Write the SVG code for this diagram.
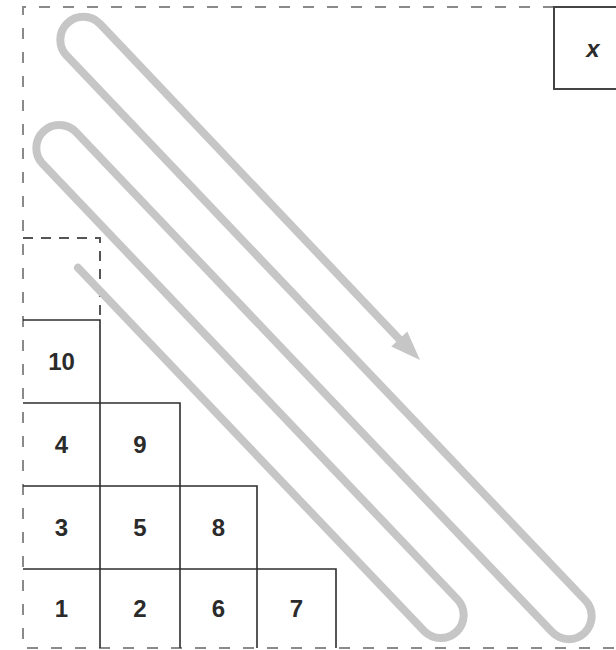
<svg xmlns="http://www.w3.org/2000/svg" width="616" height="650" viewBox="0 0 616 650">
<style>
.frame{fill:none;stroke:#8a8a8a;stroke-width:2;stroke-dasharray:11 13}
.dbox{fill:none;stroke:#555;stroke-width:2;stroke-dasharray:10 8}
.cell{fill:none;stroke:#2e2e2e;stroke-width:1.6}
.num{font-family:"Liberation Sans",Arial,sans-serif;font-size:24px;font-weight:bold;fill:#2b2b2b;text-anchor:middle;dominant-baseline:central}
.lane{fill:none;stroke:#c6c6c6;stroke-width:8;stroke-linecap:round;stroke-linejoin:round}
.head{fill:#c6c6c6}
</style>
<rect width="616" height="650" fill="#fff"/>
<path class="frame" d="M554 7 H23 V648 H616"/>
<g id="node-empty">
<path class="dbox" d="M23 238 H100 V320"/>
</g>
<g id="node-x">
<rect x="554" y="7" width="70" height="82" fill="#fff" stroke="#444" stroke-width="2"/>
<text class="num" x="593" y="48" font-style="italic" font-size="27">x</text>
</g>
<g id="node-10"><path class="cell" d="M23 320 H100 V403"/><text class="num" x="61.5" y="361.5">10</text></g>
<g id="node-4"><path class="cell" d="M23 403 H100 V486"/><text class="num" x="61.5" y="444.5">4</text></g>
<g id="node-9"><path class="cell" d="M100 403 H180 V486"/><text class="num" x="140" y="444.5">9</text></g>
<g id="node-3"><path class="cell" d="M23 486 H100 V569"/><text class="num" x="61.5" y="527.5">3</text></g>
<g id="node-5"><path class="cell" d="M100 486 H180 V569"/><text class="num" x="140" y="527.5">5</text></g>
<g id="node-8"><path class="cell" d="M180 486 H257 V569"/><text class="num" x="218.5" y="527.5">8</text></g>
<g id="node-1"><path class="cell" d="M23 569 H100 V648"/><text class="num" x="61.5" y="608.5">1</text></g>
<g id="node-2"><path class="cell" d="M100 569 H180 V648"/><text class="num" x="140" y="608.5">2</text></g>
<g id="node-6"><path class="cell" d="M180 569 H257 V648"/><text class="num" x="218.5" y="608.5">6</text></g>
<g id="node-7"><path class="cell" d="M257 569 H336 V648"/><text class="num" x="296.5" y="608.5">7</text></g>
<g id="connectors">
<path class="lane" d="M78 267.7 L424.35 631.31 A23 23 0 0 0 457.65 599.59 L42.35 163.51 A23 23 0 0 1 75.65 131.79 L552.35 632.36 A23 23 0 0 0 585.65 600.64 L66.35 55.31 A23 23 0 0 1 99.65 23.59 L401 341"/>
<polygon class="head" points="420,360 407.3,331.4 391.3,346.6"/>
</g>
</svg>
